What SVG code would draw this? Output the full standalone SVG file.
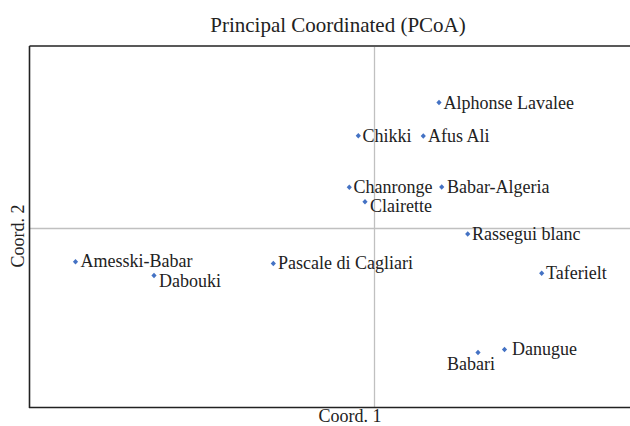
<svg xmlns="http://www.w3.org/2000/svg" width="630" height="426" viewBox="0 0 630 426" font-family="'Liberation Serif', 'Times New Roman', Times, serif">
<style>
text{font-family:'Liberation Serif','Times New Roman',Times,serif;fill:#222}
.lbl{font-size:18px}
.ax{stroke:#222;stroke-width:1.6;fill:none}
.ref{stroke:#c0c0c0;stroke-width:1.3;fill:none}
.pt{fill:#4472c4}
</style>
<defs>
<path id="dia" d="M0,-2.8 L2.6,0 L0,2.8 L-2.6,0 Z"/>
</defs>
<rect width="630" height="426" fill="#fff"/>
<text x="338" y="32" font-size="21" text-anchor="middle">Principal Coordinated (PCoA)</text>
<g id="axes">
<line class="ref" x1="29" y1="228.5" x2="630" y2="228.5"/>
<line class="ref" x1="374.5" y1="47" x2="374.5" y2="407"/>
<line class="ax" x1="29.5" y1="46" x2="630" y2="46"/>
<line class="ax" x1="29.5" y1="46" x2="29.5" y2="408"/>
<line class="ax" x1="29" y1="407.5" x2="630" y2="407.5"/>
<text class="lbl" x="350" y="422" text-anchor="middle">Coord. 1</text>
<text class="lbl" x="24" y="236" text-anchor="middle" transform="rotate(-90 24 236)">Coord. 2</text>
</g>
<g id="connectors"></g>
<g id="alphonse"><use href="#dia" class="pt" x="439" y="102.5"/><text class="lbl" x="443.5" y="108.5">Alphonse Lavalee</text></g>
<g id="chikki"><use href="#dia" class="pt" x="358.3" y="135.7"/><text class="lbl" x="362.5" y="142">Chikki</text></g>
<g id="afus"><use href="#dia" class="pt" x="423.3" y="136"/><text class="lbl" x="428" y="142">Afus Ali</text></g>
<g id="chanronge"><use href="#dia" class="pt" x="349.3" y="187.3"/><text class="lbl" x="353.5" y="193">Chanronge</text></g>
<g id="babar-algeria"><use href="#dia" class="pt" x="441.7" y="187"/><text class="lbl" x="447" y="193">Babar-Algeria</text></g>
<g id="clairette"><use href="#dia" class="pt" x="365" y="201.7"/><text class="lbl" x="370" y="211.5">Clairette</text></g>
<g id="rassegui"><use href="#dia" class="pt" x="467.7" y="234"/><text class="lbl" x="472" y="240">Rassegui blanc</text></g>
<g id="taferielt"><use href="#dia" class="pt" x="541.7" y="273.3"/><text class="lbl" x="546" y="279">Taferielt</text></g>
<g id="amesski"><use href="#dia" class="pt" x="75.5" y="261.7"/><text class="lbl" x="80.5" y="267">Amesski-Babar</text></g>
<g id="pascale"><use href="#dia" class="pt" x="273.3" y="263.5"/><text class="lbl" x="278" y="269">Pascale di Cagliari</text></g>
<g id="dabouki"><use href="#dia" class="pt" x="154" y="275.5"/><text class="lbl" x="159" y="287">Dabouki</text></g>
<g id="babari"><use href="#dia" class="pt" x="478" y="352.5"/><text class="lbl" x="447" y="370">Babari</text></g>
<g id="danugue"><use href="#dia" class="pt" x="504.5" y="349.5"/><text class="lbl" x="512" y="355">Danugue</text></g>
</svg>
